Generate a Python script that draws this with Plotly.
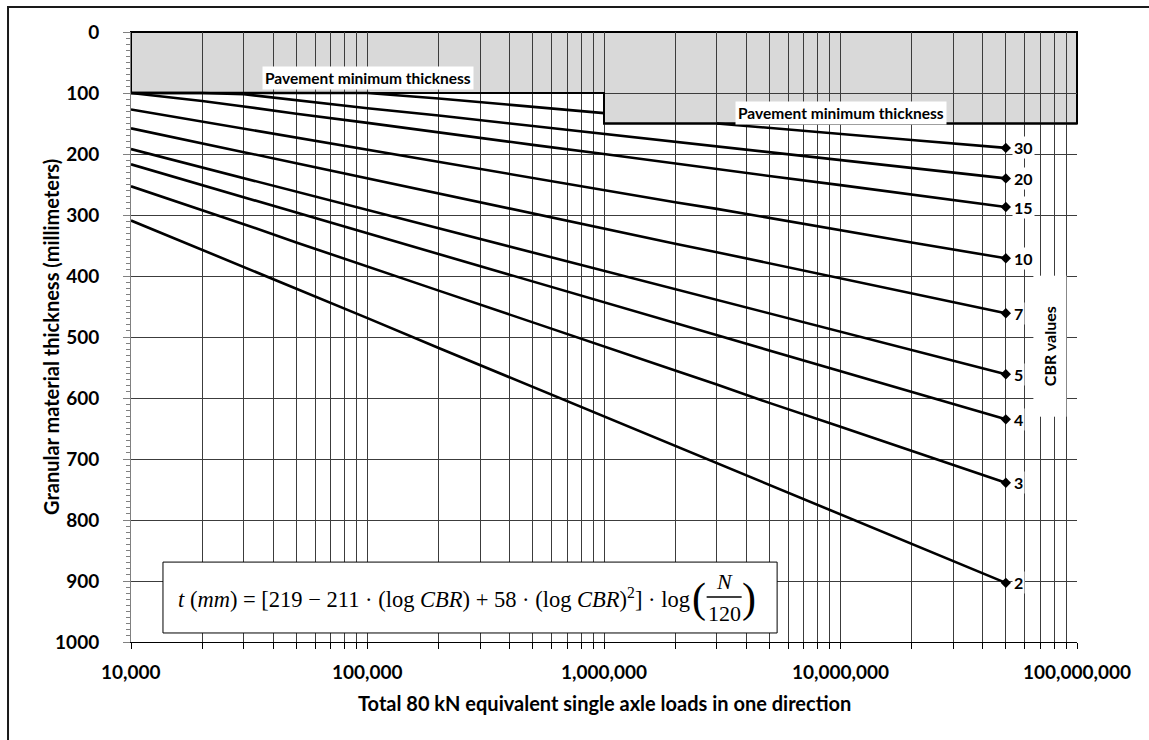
import math
import plotly.graph_objects as go

# Total 80 kN ESALs (one direction) at which each design curve is read
loads = [1e4, 2e4, 3e4, 5e4, 1e5, 2e5, 5e5, 1e6, 2e6, 3e6, 5e6, 1e7, 2e7, 5e7]

# Granular material thickness (mm) per subgrade CBR, floored at the pavement minimum
cbr_30 = [100, 100, 100, 100, 100, 109, 123, 133, None, 150, 157, 167, 177, 190]
cbr_20 = [100, 100, 102, 112, 125, 137, 154, 167, 180, 188, 197, 210, 223, 240]
cbr_15 = [100, 113, 122, 134, 149, 165, 185, 200, 216, 225, 236, 251, 267, 287]
cbr_10 = [127, 147, 158, 173, 193, 213, 239, 259, 279, 290, 305, 325, 345, 371]
cbr_7 = [158, 182, 197, 215, 240, 264, 297, 322, 347, 361, 379, 404, 429, 461]
cbr_5 = [192, 222, 239, 262, 292, 322, 361, 392, 422, 439, 461, 491, 521, 561]
cbr_4 = [217, 251, 271, 296, 330, 364, 409, 443, 477, 497, 522, 556, 590, 635]
cbr_3 = [253, 292, 315, 345, 384, 424, 476, 516, 555, 578, 608, 647, 687, 739]
cbr_2 = [309, 357, 385, 421, 469, 518, 582, 630, 679, 707, 743, 791, 839, 903]

cbr_names = ["30", "20", "15", "10", "7", "5", "4", "3", "2"]
cbr_series = [cbr_30, cbr_20, cbr_15, cbr_10, cbr_7, cbr_5, cbr_4, cbr_3, cbr_2]

# Pavement minimum thickness boundary
min_thick_x = [1e4, 1e6, 1e6, 1e8]
min_thick_y = [100, 100, 150, 150]
min_thick_label_x = [1e5, 1e7]
min_thick_label_y = [75, 132]

# Axis ticks
x_decades = [1e4, 1e5, 1e6, 1e7, 1e8]
x_tick_labels = ["10,000", "100,000", "1,000,000", "10,000,000", "100,000,000"]
y_ticks = list(range(0, 1001, 100))

FONT = "Lato"
INK = "black"
GRID = "#3c3c3c"

# gridlines at every 1..9 multiple; labels only at the decades
x_gridvals = []
for d in x_decades[:-1]:
    for k in range(1, 10):
        x_gridvals.append(k * d)
x_gridvals.append(x_decades[-1])

fig = go.Figure()

# boundary of the minimum-thickness zone
fig.add_trace(go.Scatter(
    x=min_thick_x, y=min_thick_y, mode="lines",
    line=dict(color=INK, width=2), hoverinfo="skip", showlegend=False,
))

annotations = []
for name, vals in zip(cbr_names, cbr_series):
    fig.add_trace(go.Scatter(
        x=loads, y=vals, mode="lines", connectgaps=False,
        line=dict(color=INK, width=2.6), hoverinfo="skip", showlegend=False,
    ))
    fig.add_trace(go.Scatter(
        x=[loads[-1]], y=[vals[-1]], mode="markers",
        marker=dict(symbol="diamond", size=8, color=INK),
        hoverinfo="skip", showlegend=False,
    ))
    annotations.append(dict(
        x=math.log10(loads[-1]), y=vals[-1], xref="x", yref="y",
        text=name, showarrow=False, xanchor="left", yanchor="middle",
        xshift=6, bgcolor="white", borderpad=1,
        font=dict(family=FONT, size=16, color=INK, weight="bold"),
    ))

for lx, ly in zip(min_thick_label_x, min_thick_label_y):
    annotations.append(dict(
        x=math.log10(lx), y=ly, xref="x", yref="y",
        text="Pavement minimum thickness", showarrow=False,
        xanchor="center", yanchor="middle", bgcolor="white", borderpad=2,
        font=dict(family=FONT, size=15.5, color=INK, weight="bold"),
    ))

# CBR caption on a white block that interrupts the gridlines
annotations.append(dict(
    x=7.886, y=515, xref="x", yref="y", text="CBR values", textangle=-90,
    showarrow=False, xanchor="center", yanchor="middle",
    width=136, height=28, borderpad=2, bgcolor="white",
    font=dict(family=FONT, size=16, color=INK, weight="bold"),
))

# decade labels under the x axis
for d, lab in zip(x_decades, x_tick_labels):
    annotations.append(dict(
        x=math.log10(d), y=-0.048, xref="x", yref="paper", text=lab,
        showarrow=False, xanchor="center", yanchor="middle",
        font=dict(family=FONT, size=19, color=INK, weight="bold"),
    ))

# axis titles
annotations.append(dict(
    x=0.5, y=-0.10, xref="paper", yref="paper",
    text="Total 80 kN equivalent single axle loads in one direction",
    showarrow=False, xanchor="center", yanchor="middle",
    font=dict(family=FONT, size=20, color=INK, weight="bold"),
))
annotations.append(dict(
    x=-0.0846, y=0.5, xref="paper", yref="paper",
    text="Granular material thickness (millimeters)", textangle=-90,
    showarrow=False, xanchor="center", yanchor="middle",
    font=dict(family=FONT, size=20, color=INK, weight="bold"),
))

# design equation
MATH = "Liberation Serif"
annotations.append(dict(
    x=0.0476, y=0.0721, xref="paper", yref="paper",
    text="<i>t</i> (<i>mm</i>) = [219 − 211 · (log <i>CBR</i>) + 58 · (log <i>CBR</i>)<sup>2</sup>] · log",
    showarrow=False, xanchor="left", yanchor="middle",
    font=dict(family=MATH, size=22.5, color=INK),
))
annotations.append(dict(
    x=0.600, y=0.0721, xref="paper", yref="paper", text="(",
    showarrow=False, xanchor="center", yanchor="middle",
    font=dict(family=MATH, size=42, color=INK),
))
annotations.append(dict(
    x=0.6535, y=0.0721, xref="paper", yref="paper", text=")",
    showarrow=False, xanchor="center", yanchor="middle",
    font=dict(family=MATH, size=42, color=INK),
))
annotations.append(dict(
    x=0.627, y=0.0990, xref="paper", yref="paper", text="<i>N</i>",
    showarrow=False, xanchor="center", yanchor="middle",
    font=dict(family=MATH, size=22, color=INK),
))
annotations.append(dict(
    x=0.627, y=0.0470, xref="paper", yref="paper", text="120",
    showarrow=False, xanchor="center", yanchor="middle",
    font=dict(family=MATH, size=22, color=INK),
))

shapes = [
    # outer frame
    dict(type="rect", xref="paper", yref="paper", x0=-0.130, x1=1.2,
         y0=-0.3, y1=1.041, line=dict(color="#1a1a1a", width=2),
         fillcolor="rgba(0,0,0,0)", layer="below"),
    # minimum-thickness zone
    dict(type="path", xref="paper", yref="paper",
         path="M0,1 L0,0.9 L0.5,0.9 L0.5,0.85 L1,0.85 L1,1 Z",
         fillcolor="#d9d9d9", line=dict(color=INK, width=2), layer="below"),
    # equation box
    dict(type="rect", xref="paper", yref="paper", x0=0.0338, x1=0.683,
         y0=0.0148, y1=0.131, fillcolor="white",
         line=dict(color=INK, width=1), layer="above"),
    # fraction bar
    dict(type="line", xref="paper", yref="paper", x0=0.6085, x1=0.6455,
         y0=0.0738, y1=0.0738, line=dict(color=INK, width=1.5), layer="above"),
]

fig.update_layout(
    width=1149, height=740,
    margin=dict(l=131, r=72, t=32, b=98, autoexpand=False),
    paper_bgcolor="white", plot_bgcolor="rgba(0,0,0,0)",
    showlegend=False,
    annotations=annotations, shapes=shapes,
    xaxis=dict(
        type="log", range=[4, 8], tickmode="array",
        tickvals=x_gridvals, showticklabels=False,
        ticks="outside", ticklen=6, tickcolor=INK, tickwidth=1,
        showgrid=True, gridcolor=GRID, gridwidth=1,
        showline=True, linecolor=INK, linewidth=1,
        automargin=False,
    ),
    yaxis=dict(
        range=[1000, 0], tickmode="array", tickvals=y_ticks,
        ticks="outside", ticklen=7, tickcolor="#808080", tickwidth=1,
        minor=dict(dtick=10, ticks="outside", ticklen=4,
                   tickcolor="#808080", showgrid=False),
        showgrid=True, gridcolor=GRID, gridwidth=1, zeroline=False,
        showline=True, linecolor="#808080", linewidth=1,
        tickfont=dict(family=FONT, size=19, color=INK, weight="bold"),
        ticklabelstandoff=20, automargin=False,
    ),
)

fig.write_html("out.html")
